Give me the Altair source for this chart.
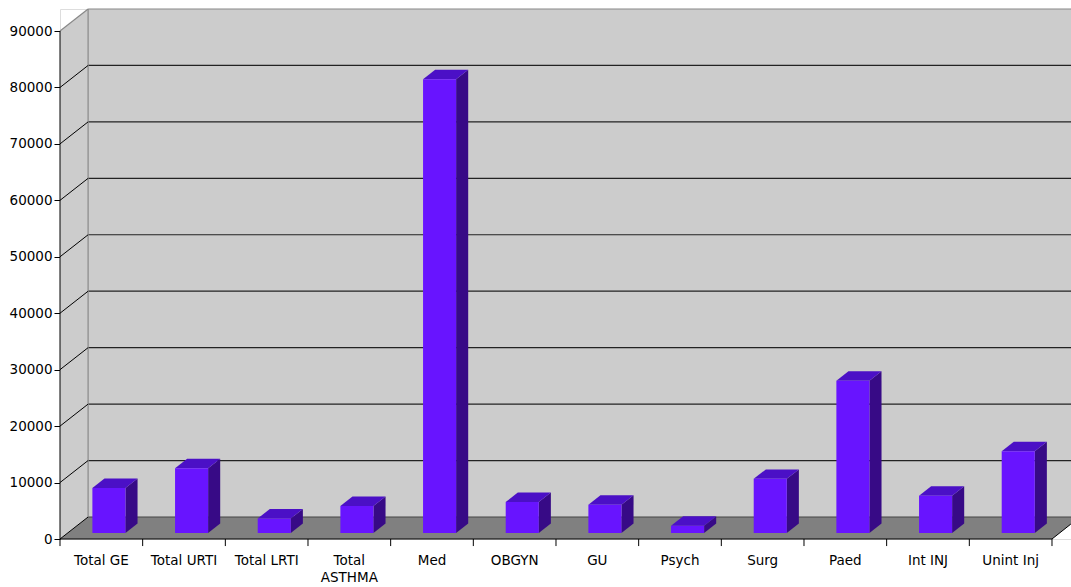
import altair as alt
import pandas as pd

# Attendance totals by clinical category
categories = ["Total GE", "Total URTI", "Total LRTI", "Total ASTHMA", "Med", "OBGYN",
              "GU", "Psych", "Surg", "Paed", "Int INJ", "Unint Inj"]
values = [8000, 11500, 2600, 4800, 80400, 5500, 5000, 1300, 9600, 27000, 6600, 14500]
y_ticks = [0, 10000, 20000, 30000, 40000, 50000, 60000, 70000, 80000, 90000]

# Pseudo-3D box geometry, in data units (x: category slots, y: value)
N = len(categories)
DEPTH_X = 0.34
DEPTH_Y = 3900
Y_TOP = 90000
X_MAX = 12.23
Y_MAX = Y_TOP + DEPTH_Y
BAR_W = 0.4
BAR_FRONT = 0.27
BAR_BACK = 0.70

FONT = "DejaVu Sans"
WALL = "#CCCCCC"
FLOOR = "#808080"
FRONT = "#6814FF"
TOP = "#4B10C6"
SIDE = "#370A86"

xs = alt.Scale(domain=[0, X_MAX], nice=False, zero=False)
ys = alt.Scale(domain=[0, Y_MAX], nice=False, zero=False)

# value axis, shared by every layer so the layers merge into one axis
y_axis_def = alt.Axis(values=y_ticks, format="d", domain=False, grid=False, tickSize=6,
                      tickColor="#000000", labelColor="#000000", labelFont=FONT,
                      labelFontSize=13.5, labelPadding=2, title=None)


def X(f="x"):
    return alt.X(f"{f}:Q", scale=xs, axis=None, title=None)


def Y(f="y"):
    return alt.Y(f"{f}:Q", scale=ys, axis=y_axis_def, title=None)


# back wall and left side wall
back_wall = alt.Chart(pd.DataFrame({"x": [DEPTH_X], "x2": [X_MAX], "y": [DEPTH_Y], "y2": [Y_MAX]})).mark_rect(
    fill=WALL, clip=True
).encode(x=X(), x2="x2:Q", y=Y(), y2="y2:Q")

side_wall = alt.Chart(pd.DataFrame({"x": [0, DEPTH_X], "y": [0, DEPTH_Y], "y2": [Y_TOP, Y_MAX]})).mark_area(
    fill=WALL, orient="vertical"
).encode(x=X(), y=Y(), y2="y2:Q")

floor = alt.Chart(pd.DataFrame({
    "x": [0, DEPTH_X, N, N + DEPTH_X],
    "y": [0, 0, 0, DEPTH_Y],
    "y2": [0, DEPTH_Y, DEPTH_Y, DEPTH_Y],
})).mark_area(fill=FLOOR, orient="vertical", clip=True).encode(x=X(), y=Y(), y2="y2:Q")


def rules(rows, color, width=1.0):
    df = pd.DataFrame(rows, columns=["x", "y", "x2", "y2"])
    return alt.Chart(df).mark_rule(color=color, strokeWidth=width, clip=False).encode(
        x=X(), y=Y(), x2="x2:Q", y2="y2:Q"
    )


grid_back = rules([(DEPTH_X, v + DEPTH_Y, X_MAX, v + DEPTH_Y) for v in y_ticks[1:-1]], "#222222", 1.2)
grid_diag = rules([(0, v, DEPTH_X, v + DEPTH_Y) for v in y_ticks[:-1]], "#000000", 1.0)
floor_back = rules([(DEPTH_X, DEPTH_Y, X_MAX, DEPTH_Y)], "#444444", 1.2)
wall_edges = rules([
    (DEPTH_X, DEPTH_Y, DEPTH_X, Y_MAX),
    (DEPTH_X, Y_MAX, X_MAX, Y_MAX),
    (0, Y_TOP, DEPTH_X, Y_MAX),
], "#888888", 1.2)
front_edges = rules([
    (0, 0, N, 0),
    (0, 0, 0, Y_TOP),
    (N, 0, N + 0.99 * (X_MAX - N), (X_MAX - N) / DEPTH_X * DEPTH_Y),
], "#000000", 1.0)
x_ticks = rules([(i, 0, i, -1250) for i in range(N + 1)], "#000000", 1.0)

# bar faces
sx = BAR_FRONT * DEPTH_X
sy = BAR_FRONT * DEPTH_Y
dx = (BAR_BACK - BAR_FRONT) * DEPTH_X
dy = (BAR_BACK - BAR_FRONT) * DEPTH_Y

front_rows, top_rows, side_rows = [], [], []
for i, (c, v) in enumerate(zip(categories, values)):
    x0 = i + 0.5 - BAR_W / 2 + sx
    x1 = i + 0.5 + BAR_W / 2 + sx
    front_rows.append({"cat": c, "x": x0, "x2": x1, "y": sy, "y2": v + sy})
    top_rows += [
        {"cat": c, "y": v + sy, "x": x0, "x2": x1},
        {"cat": c, "y": v + sy + dy, "x": x0 + dx, "x2": x1 + dx},
    ]
    side_rows += [
        {"cat": c, "x": x1, "y": sy, "y2": v + sy},
        {"cat": c, "x": x1 + dx, "y": sy + dy, "y2": v + sy + dy},
    ]

bar_side = alt.Chart(pd.DataFrame(side_rows)).mark_area(fill=SIDE, orient="vertical").encode(
    x=X(), y=Y(), y2="y2:Q", detail="cat:N"
)
bar_top = alt.Chart(pd.DataFrame(top_rows)).mark_area(fill=TOP, orient="horizontal").encode(
    y=Y(), x=X(), x2="x2:Q", detail="cat:N"
)
bar_front = alt.Chart(pd.DataFrame(front_rows)).mark_rect(fill=FRONT).encode(
    x=X(), x2="x2:Q", y=Y(), y2="y2:Q"
)

# category labels
lab = pd.DataFrame({
    "x": [i + 0.5 for i in range(N)],
    "label": [c.replace(" ", "\n", 1) if len(c) > 11 else c for c in categories],
})
labels = alt.Chart(lab).mark_text(
    font=FONT, fontSize=13.5, color="#000000", baseline="top", align="center",
    lineBreak="\n", lineHeight=17,
).encode(x=X(), y=alt.value(545), text="label:N")

chart = alt.layer(
    back_wall, side_wall, floor, grid_back, floor_back, wall_edges, grid_diag,
    bar_side, bar_top, bar_front, front_edges, x_ticks, labels,
).properties(
    width=1011, height=530,
    autosize=alt.AutoSizeParams(type="none"),
    padding={"left": 60, "top": 9, "right": 0, "bottom": 48},
).configure_view(stroke=None).configure(background="#FFFFFF")

chart.save("out.html", embed_options={"renderer": "svg", "actions": False})
